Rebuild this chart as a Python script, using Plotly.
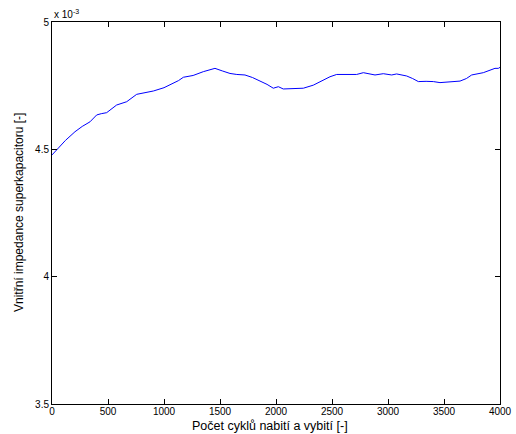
import plotly.graph_objects as go

cycles = [0, 30, 60, 120, 205, 270, 339, 399, 440, 488, 577, 620, 667, 756, 830, 905, 1000, 1083, 1130, 1173, 1260,
          1351, 1420, 1455, 1520, 1589, 1650, 1723, 1790, 1857, 1920, 1976, 2021, 2065, 2150, 2244, 2333, 2410,
          2482, 2542, 2630, 2720, 2780, 2884, 2958, 3033, 3077, 3167, 3220, 3271, 3340, 3405, 3464, 3550, 3643,
          3700, 3747, 3851, 3900, 3955, 3985, 4000]
impedance_e3 = [4.478, 4.492, 4.505, 4.535, 4.569, 4.590, 4.608, 4.635, 4.640, 4.644, 4.674, 4.680, 4.687, 4.716,
                4.722, 4.729, 4.742, 4.759, 4.770, 4.783, 4.790, 4.805, 4.812, 4.818, 4.808, 4.798, 4.794,
                4.792, 4.782, 4.769, 4.755, 4.740, 4.746, 4.737, 4.739, 4.740, 4.752, 4.768, 4.785, 4.794,
                4.794, 4.794, 4.801, 4.792, 4.797, 4.792, 4.796, 4.788, 4.778, 4.766, 4.767, 4.766, 4.762,
                4.766, 4.768, 4.778, 4.792, 4.801, 4.808, 4.818, 4.818, 4.822]
x_ticks = [0, 500, 1000, 1500, 2000, 2500, 3000, 3500, 4000]
y_ticks = [3.5, 4, 4.5, 5]
y_tick_labels = ["3.5", "4", "4.5", "5"]

FONT = "Liberation Sans, Arial, sans-serif"

fig = go.Figure()
fig.add_trace(go.Scatter(x=cycles, y=impedance_e3, mode="lines",
                         line=dict(color="#0000ff", width=1)))

axis_common = dict(showgrid=False, zeroline=False, showline=True, linecolor="black", linewidth=1,
                   ticks="inside", ticklen=5, tickcolor="black", mirror="ticks", automargin=False,
                   tickfont=dict(family=FONT, size=10, color="black"))
fig.update_xaxes(range=[0, 4000], tickvals=x_ticks, ticktext=[str(t) for t in x_ticks],
                 ticklabelstandoff=-2, **axis_common)
fig.update_yaxes(range=[3.5, 5], tickvals=y_ticks, ticktext=y_tick_labels, **axis_common)

fig.add_annotation(text="Počet cyklů nabití a vybití [-]", xref="paper", yref="paper",
                   x=0.4866, y=-0.037, xanchor="center", yanchor="top", showarrow=False,
                   borderpad=0, font=dict(family=FONT, size=12.5, color="black"))
fig.add_annotation(text="Vnitřní impedance superkapacitoru [-]", xref="paper", yref="paper",
                   x=-0.0737, y=0.5026, xanchor="center", yanchor="middle", showarrow=False,
                   textangle=-90, font=dict(family=FONT, size=12, color="black"))
fig.add_annotation(text="x 10<sup>-3</sup>", xref="paper", yref="paper", x=0, y=1,
                   xanchor="left", yanchor="bottom", showarrow=False,
                   font=dict(family=FONT, size=10, color="black"))
fig.update_layout(width=516, height=434, margin=dict(l=52, r=16, t=22, b=30),
                  plot_bgcolor="white", paper_bgcolor="white", showlegend=False)
fig.write_html("out.html", config={"displayModeBar": False},
               post_script="document.body.style.margin='0';")
